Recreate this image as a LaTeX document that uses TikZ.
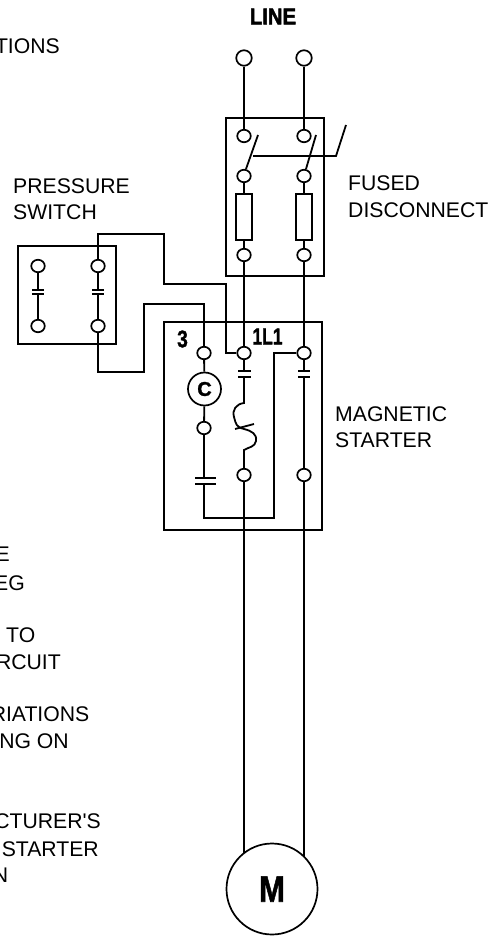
\documentclass[tikz,border=0pt]{standalone}
\usepackage{fontspec}
\setmainfont{Liberation Sans}
\newfontfamily\rawfont{Liberation Sans}
\newfontfamily\heavyfont[FakeBold=1.5]{Liberation Sans Bold}
\newfontfamily\lineheavyfont[FakeBold=2.5]{Liberation Sans Bold}
\usetikzlibrary{shapes.geometric}
\tikzset{
  wire/.style={line width=1.8pt,line join=miter},
  term/.style={shape=ellipse,draw,line width=1.7pt,fill=white,inner sep=0pt,minimum width=13.5pt,minimum height=12.5pt},
  lineterm/.style={shape=circle,draw,line width=1.7pt,fill=white,inner sep=0pt,minimum size=15.5pt},
  label/.style={anchor=west,inner sep=0pt,font=\fontsize{21.2}{21.2}\selectfont},
  clipped/.style={anchor=base east,inner sep=0pt,font=\fontsize{21.2}{21.2}\selectfont},
  heavy/.style={inner sep=0pt,font=\heavyfont},
  fuse/.style={draw,line width=1.7pt,inner sep=0pt,minimum width=16pt,minimum height=46pt},
  plate/.style={line width=1.8pt}
}
\begin{document}
\begin{tikzpicture}[x=1pt,y=-1pt]
\useasboundingbox (0,0) rectangle (497,939);
% boxes
\draw[wire] (226,118) rectangle (324,276);
\draw[wire] (18,246) rectangle (116,344);
\draw[wire] (164,322) rectangle (322,530);
% terminals
\node[lineterm] (a0) at (244,58) {};
\node[lineterm] (b0) at (304,58) {};
\node[term] (a1) at (244,136) {};
\node[term] (b1) at (304,136) {};
\node[term] (a2) at (244,176) {};
\node[term] (b2) at (304,176) {};
\node[fuse] (fa) at (244,217) {};
\node[fuse] (fb) at (304,217) {};
\node[term] (a3) at (244,255) {};
\node[term] (b3) at (304,255) {};
\node[term] (a4) at (244,353) {};
\node[term] (b4) at (304,353) {};
\node[term] (c4) at (204,353) {};
\node[term] (a5) at (244,475) {};
\node[term] (b5) at (304,475) {};
\node[term] (c5) at (204,428) {};
\node[term] (p1) at (38,266) {};
\node[term] (p2) at (98,266) {};
\node[term] (p3) at (38,326) {};
\node[term] (p4) at (98,326) {};
\node[shape=circle,draw,line width=1.7pt,inner sep=0pt,minimum size=33pt,font=\heavyfont\fontsize{20}{20}\selectfont] (coil) at (204.5,389) {C};
\node[shape=circle,draw,line width=1.7pt,inner sep=0pt,minimum size=91pt,font=\heavyfont\fontsize{37}{37}\selectfont] (motor) at (272,889) {\scalebox{.84}[1]{M}};
% line wiring
\draw[wire] (a0) -- (a1);
\draw[wire] (b0) -- (b1);
\draw[wire] (a2) -- (fa);
\draw[wire] (b2) -- (fb);
\draw[wire] (fa) -- (a3);
\draw[wire] (fb) -- (b3);
\draw[wire] (a3) -- (a4);
\draw[wire] (b3) -- (b4);
% disconnect blades
\coordinate (ba1) at (258,135);
\coordinate (ba2) at (246,169);
\coordinate (bb1) at (316,135);
\coordinate (bb2) at (306,169);
\coordinate (h0) at (253,156);
\coordinate (h1) at (336,156);
\coordinate (h2) at (346,125);
\draw[wire] (ba1) -- (ba2);
\draw[wire] (bb1) -- (bb2);
\draw[wire] (h0) -- (h1) -- (h2);
% pressure switch contacts
\coordinate (q1a) at (38,290);\coordinate (q1b) at (38,294);
\coordinate (q2a) at (98,290);\coordinate (q2b) at (98,294);
\draw[wire] (p1) -- (q1a) (q1b) -- (p3);
\draw[wire] (p2) -- (q2a) (q2b) -- (p4);
\draw[plate] (32,290) -- (44,290) (32,294) -- (44,294);
\draw[plate] (92,290) -- (104,290) (92,294) -- (104,294);
% pressure switch wiring
\draw[wire] (p2) -- (98,234) -- (164,234) -- (164,284) -- (226,284) -- (226,353) -- (a4);
\draw[wire] (p4) -- (98,372) -- (144,372) -- (144,304) -- (204,304) -- (c4);
% starter
\draw[wire] (c4) -- (coil);
\draw[wire] (coil) -- (c5);
\coordinate (d1a) at (204,478);\coordinate (d1b) at (204,484);
\coordinate (d2) at (204,518);\coordinate (d3) at (274,518);\coordinate (d4) at (274,353);
\draw[wire] (c5) -- (d1a);
\draw[plate] (195,478) -- (216,478) (195,484) -- (216,484);
\draw[wire] (d1b) -- (d2) -- (d3) -- (d4) -- (b4);
% main contacts
\coordinate (m1a) at (244,371);\coordinate (m1b) at (244,377);
\coordinate (m2a) at (304,371);\coordinate (m2b) at (304,377);
\draw[wire] (a4) -- (m1a);
\draw[plate] (238,371) -- (251,371) (238,377) -- (251,377);
\draw[plate] (298,371) -- (310,371) (298,377) -- (310,377);
\draw[wire] (b4) -- (m2a) (m2b) -- (b5);
% overload
\coordinate (o1) at (244,403);
\coordinate (o2) at (244,450);
\draw[wire] (m1b) -- (o1)
  .. controls (236,404) and (232,410) .. (234,417)
  .. controls (236,424) and (236,427) .. (244,429)
  .. controls (252,431) and (257,434) .. (256,441)
  .. controls (255,447) and (249,447) .. (o2) -- (a5);
\draw[wire] (235,429) -- (254,424);
% feeders
\coordinate (ma) at (244,853);
\coordinate (mb) at (304,856);
\draw[wire] (a5) -- (ma);
\draw[wire] (b5) -- (mb);
% labels
\node[heavy,font=\lineheavyfont\fontsize{23}{23}\selectfont] (tline) at (273,16.5) {\scalebox{.88}[1]{LINE}};
\node[heavy,font=\heavyfont\fontsize{24}{24}\selectfont] (t3) at (182.5,339) {\scalebox{.8}[1]{3}};
\node[heavy,font=\heavyfont\fontsize{23}{23}\selectfont] (t1l1) at (267.5,336.5) {\scalebox{.76}[1]{1L1}};
\node[label] (t1) at (348,183) {FUSED};
\node[label] (t2) at (348,210.5) {DISCONNECT};
\node[label] (t4) at (13,186) {PRESSURE};
\node[label] (t5) at (13,212) {SWITCH};
\node[label] (t6) at (335,414) {MAGNETIC};
\node[label] (t7) at (335,440) {STARTER};
% clipped note text
\node[clipped] (n0) at (60,53.5) {TIONS};
\node[clipped] (n1) at (10,561.5) {E};
\node[clipped] (n2) at (25,590) {EG};
\node[clipped] (n3) at (35.5,642) {TO};
\node[clipped] (n4) at (61,669) {RCUIT};
\node[clipped] (n5) at (89.5,721) {RIATIONS};
\node[clipped] (n6) at (69,748) {NG ON};
\node[clipped,font=\rawfont\fontsize{21.2}{21.2}\selectfont] (n7) at (101,828) {CTURER'S};
\node[clipped] (n8) at (99,856.5) {STARTER};
\node[clipped] (n9) at (8.5,882.5) {N};
\end{tikzpicture}
\end{document}
